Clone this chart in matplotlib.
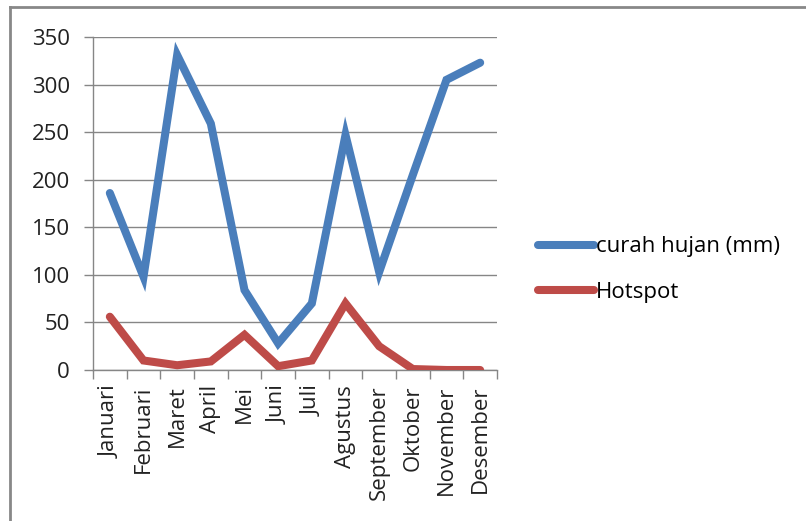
import numpy as np
import matplotlib
matplotlib.use("Agg")
import matplotlib.pyplot as plt
from matplotlib.lines import Line2D

bulan = ["Januari", "Februari", "Maret", "April", "Mei", "Juni", "Juli",
         "Agustus", "September", "Oktober", "November", "Desember"]
curah_hujan = [186, 98, 331, 259, 84, 28, 70, 247, 103, 205, 305, 323]
hotspot = [56, 10, 5, 9, 37, 4, 10, 70, 25, 1, 0, 0]
y_ticks = [0, 50, 100, 150, 200, 250, 300, 350]

BLUE = "#4A7EBB"
RED = "#BE4B48"
GRID = "#868686"
FS = 16

plt.rcParams["font.family"] = ["Open Sans", "DejaVu Sans"]

fig = plt.figure(figsize=(8.06, 5.21), dpi=100)
ax = fig.add_axes([93 / 806, 1 - 370 / 521, 404 / 806, 333 / 521])

x = np.arange(len(bulan))
ax.plot(x, curah_hujan, color=BLUE, lw=5.8, solid_joinstyle="miter",
        solid_capstyle="round", label="curah hujan (mm)", zorder=3)
ax.plot(x, hotspot, color=RED, lw=5.8, solid_joinstyle="miter",
        solid_capstyle="round", label="Hotspot", zorder=3)

ax.set_xlim(-0.5, len(bulan) - 0.5)
ax.set_ylim(0, 350)
ax.set_yticks(y_ticks)
ax.set_yticklabels([str(v) for v in y_ticks], fontsize=FS, color="#222222")
ax.set_xticks(x)
ax.set_xticklabels(bulan, rotation=90, fontsize=FS, color="#222222")
ax.set_xticks(np.arange(-0.5, len(bulan)), minor=True)
ax.tick_params(axis="x", which="major", length=0, pad=11)
ax.tick_params(axis="x", which="minor", length=6.5, width=1, color=GRID, direction="out")
ax.tick_params(axis="y", length=6.5, width=1, color=GRID, direction="out", pad=10)

ax.grid(axis="y", color=GRID, lw=1, zorder=0)
for s in ("top", "right"):
    ax.spines[s].set_visible(False)
for s in ("left", "bottom"):
    ax.spines[s].set_color(GRID)
    ax.spines[s].set_linewidth(1)

fig.legend(loc="center left", bbox_to_anchor=(518 / 806, 1 - 269.5 / 521),
           frameon=False, fontsize=FS, handlelength=2.5, handletextpad=0.1,
           labelspacing=1.1)

# chart area border (top and left edges only)
fig.add_artist(Line2D([9.5 / 806, 1], [1 - 7 / 521, 1 - 7 / 521],
                      transform=fig.transFigure, color="#888888", lw=2))
fig.add_artist(Line2D([9.5 / 806, 9.5 / 806], [0, 1 - 7 / 521],
                      transform=fig.transFigure, color="#888888", lw=2))

fig.savefig("out.png", dpi=100)
